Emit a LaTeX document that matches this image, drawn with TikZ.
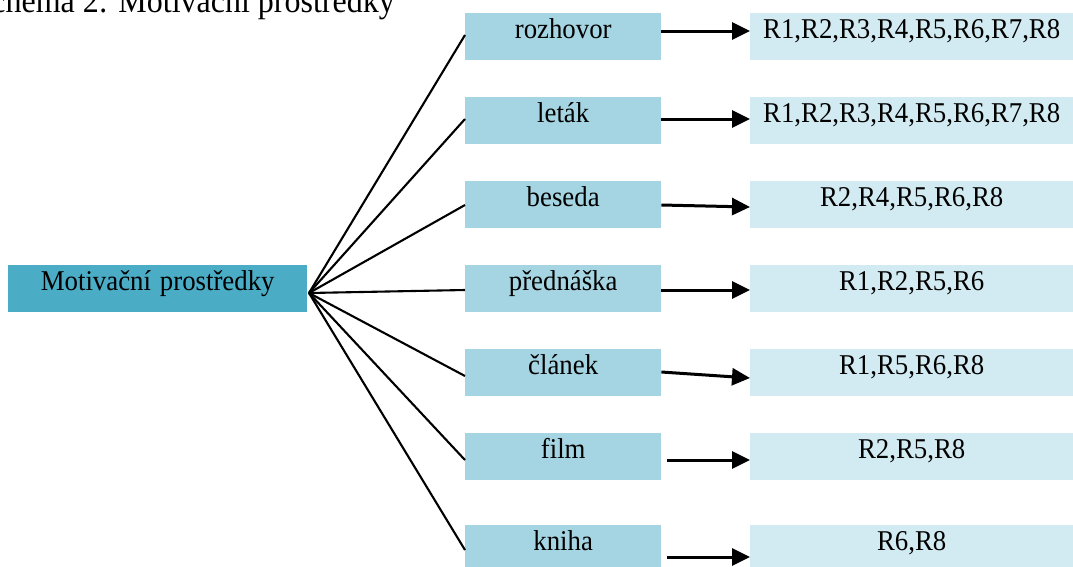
\documentclass[tikz,border=0pt]{standalone}
\usepackage{fontspec}
\setmainfont{Liberation Serif}
\usetikzlibrary{arrows.meta,calc}

\definecolor{mainfill}{HTML}{4BACC6}
\definecolor{midfill}{HTML}{A5D5E2}
\definecolor{rightfill}{HTML}{D2EAF1}

% box labels are set slightly taller than wide
\newcommand\tallLabel[1]{\scalebox{1}[1.07]{#1}}

\tikzset{
  box/.style={anchor=north west, inner xsep=0pt, inner ysep=0pt,
    text height=25pt, text depth=22pt, align=center,
    font=\fontsize{26.8}{30}\selectfont},
  mainbox/.style={box, fill=mainfill, text width=299pt},
  midbox/.style={box, fill=midfill, text width=196pt},
  resbox/.style={box, fill=rightfill, text width=323pt},
  fan/.style={line width=2.1pt, black},
  link/.style={line width=3pt, black, -{Triangle[length=18pt,width=17pt]}},
}

\begin{document}
\begin{tikzpicture}[x=1pt,y=-1pt]
  \useasboundingbox (0,0) rectangle (1073,566);

  % caption at the top
  \node[anchor=base east, inner sep=0pt, font=\fontsize{32}{36}\selectfont]
    (caption) at (395,12) {\tallLabel{Schéma 2: Motivační prostředky}};

  % root box
  \node[mainbox] (root) at (8,265) {\tallLabel{Motivační prostředky}};
  \coordinate (hub) at (309,293);

  % middle column
  \node[midbox] (m1) at (465,13)  {\tallLabel{rozhovor}};
  \node[midbox] (m2) at (465,97)  {\tallLabel{leták}};
  \node[midbox] (m3) at (465,181) {\tallLabel{beseda}};
  \node[midbox] (m4) at (465,265) {\tallLabel{přednáška}};
  \node[midbox] (m5) at (465,349) {\tallLabel{článek}};
  \node[midbox] (m6) at (465,433) {\tallLabel{film}};
  \node[midbox] (m7) at (465,525) {\tallLabel{kniha}};

  % result column
  \node[resbox] (r1) at (750,13)  {\tallLabel{R1,R2,R3,R4,R5,R6,R7,R8}};
  \node[resbox] (r2) at (750,97)  {\tallLabel{R1,R2,R3,R4,R5,R6,R7,R8}};
  \node[resbox] (r3) at (750,181) {\tallLabel{R2,R4,R5,R6,R8}};
  \node[resbox] (r4) at (750,265) {\tallLabel{R1,R2,R5,R6}};
  \node[resbox] (r5) at (750,349) {\tallLabel{R1,R5,R6,R8}};
  \node[resbox] (r6) at (750,433) {\tallLabel{R2,R5,R8}};
  \node[resbox] (r7) at (750,525) {\tallLabel{R6,R8}};

  % fan from the root box
  \draw[fan] (hub) -- ($(m1.north west)+(0,22)$);
  \draw[fan] (hub) -- ($(m2.north west)+(0,22)$);
  \draw[fan] (hub) -- ($(m3.north west)+(0,24)$);
  \draw[fan] (hub) -- ($(m4.north west)+(0,25)$);
  \draw[fan] (hub) -- ($(m5.north west)+(0,27)$);
  \draw[fan] (hub) -- ($(m6.north west)+(0,27)$);
  \draw[fan] (hub) -- ($(m7.north west)+(0,25)$);

  % arrows to the results
  \draw[link] ($(m1.north east)+(0,18)$) -- ($(r1.north west)+(0,18)$);
  \draw[link] ($(m2.north east)+(0,22)$) -- ($(r2.north west)+(0,22)$);
  \draw[link] ($(m3.north east)+(0,24)$) -- ($(r3.north west)+(0,26)$);
  \draw[link] ($(m4.north east)+(0,25)$) -- ($(r4.north west)+(0,25)$);
  \draw[link] ($(m5.north east)+(0,23)$) -- ($(r5.north west)+(0,29)$);
  \draw[link] ($(m6.north east)+(6,27)$) -- ($(r6.north west)+(0,27)$);
  \draw[link] ($(m7.north east)+(6,32)$) -- ($(r7.north west)+(0,32)$);
\end{tikzpicture}
\end{document}
